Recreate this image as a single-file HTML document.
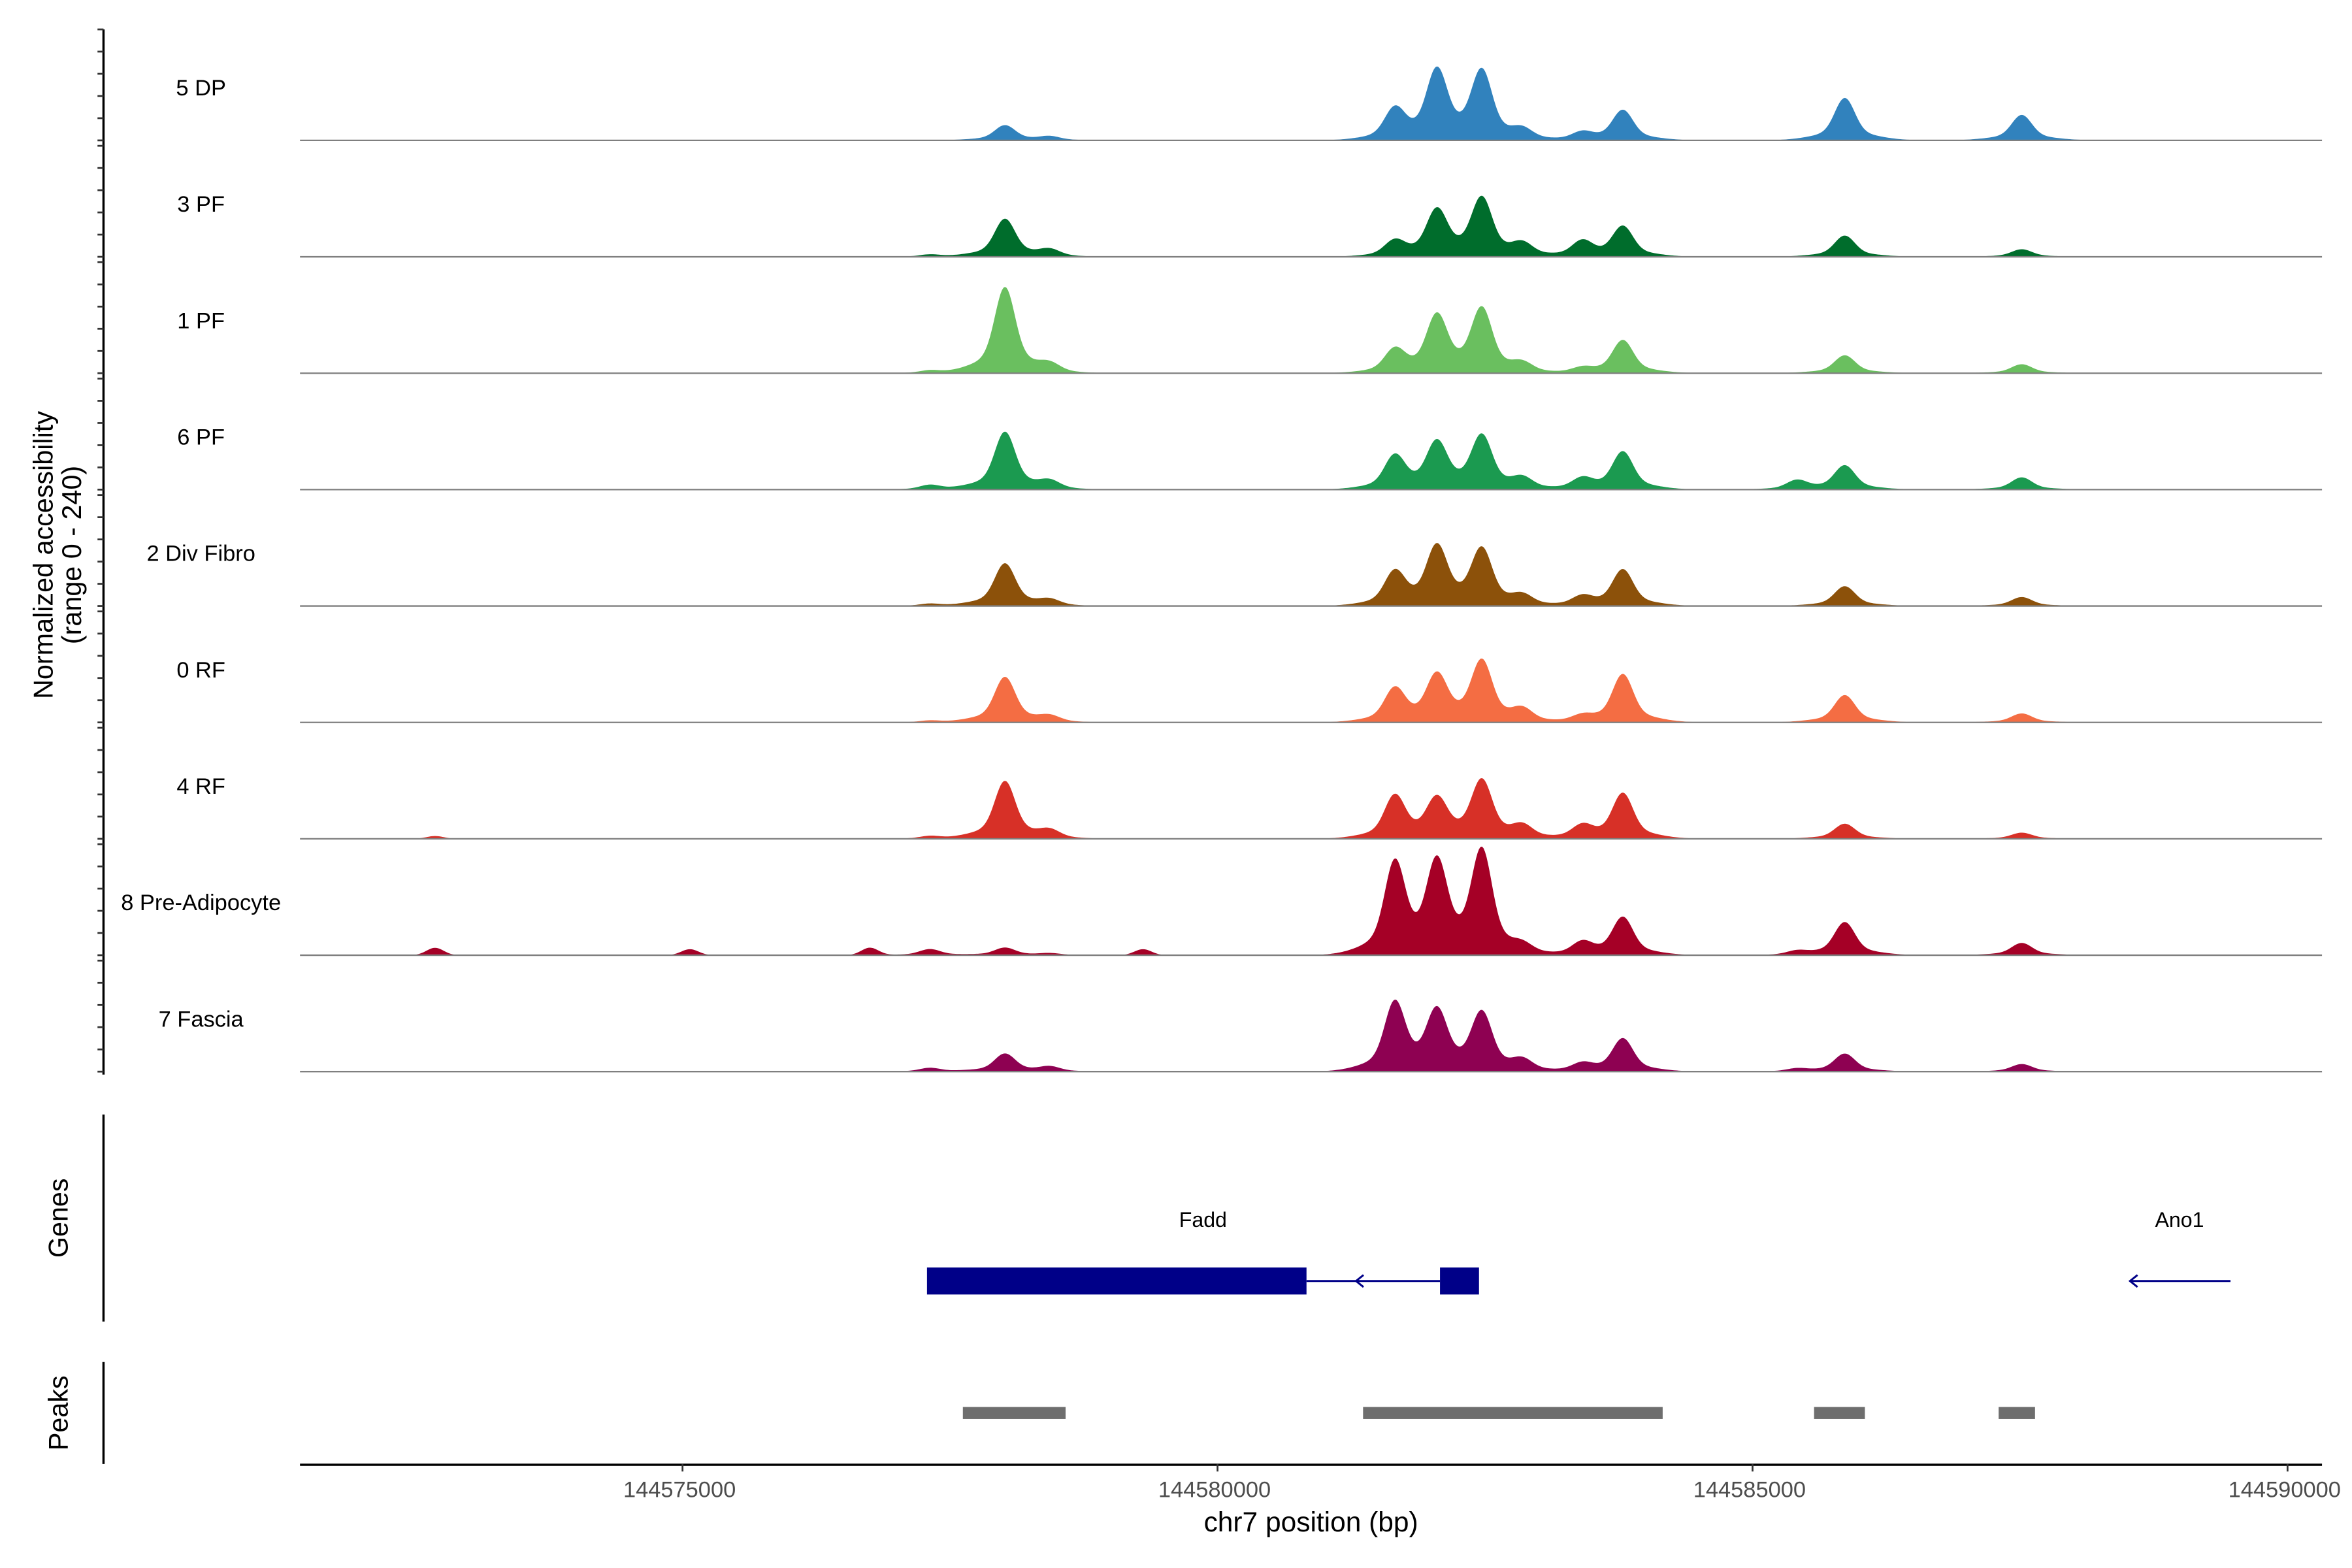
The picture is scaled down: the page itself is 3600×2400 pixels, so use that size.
<!DOCTYPE html>
<html><head><meta charset="utf-8"><style>
html,body{margin:0;padding:0;background:#fff}
svg{display:block}
text{font-family:"Liberation Sans",Arial,sans-serif}
</style></head><body>
<svg id="chart" width="3600" height="2400" viewBox="0 0 1568 1045.33" xmlns="http://www.w3.org/2000/svg">
<rect width="1568" height="1046" fill="#fff"/>
<g id="tracks"></g>
<g id="yaxis"></g>
<text transform="translate(35,370) rotate(-90)" text-anchor="middle" font-size="18">Normalized accessibility</text>
<text transform="translate(54,370) rotate(-90)" text-anchor="middle" font-size="18">(range 0 - 240)</text>
<line x1="69" y1="743" x2="69" y2="881" stroke="#000" stroke-width="1.5"/>
<text transform="translate(45,812) rotate(-90)" text-anchor="middle" font-size="18">Genes</text>
<line x1="69" y1="908" x2="69" y2="976" stroke="#000" stroke-width="1.5"/>
<text transform="translate(45,942) rotate(-90)" text-anchor="middle" font-size="18">Peaks</text>
<g id="genes"></g>
<g id="peaks"></g>
<g id="xaxis"></g>
<text x="874" y="1021" text-anchor="middle" font-size="18.5">chr7 position (bp)</text>
</svg>
<script>
const trackNames = ["5 DP","3 PF","1 PF","6 PF","2 Div Fibro","0 RF","4 RF","8 Pre-Adipocyte","7 Fascia"];
const trackColors = ["#3182bd","#006d2c","#6abf5f","#1b9a50","#8c510a","#f46d43","#d73027","#a50026","#8e0152"];
const peakPositions = [144577312,144578013,144578433,144581657,144582050,144582470,144582849,144583410,144583788,144585414,144585862,144587516];
// heights per track at each peak position (0-240 scale)
const trackHeights = [
 [0,32,8,64,144,144,20,16,64,0,90,54],
 [5,80,14,32,96,122,25,32,64,0,45,16],
 [6,182,16,48,118,134,18,10,70,0,38,19],
 [10,122,16,70,96,112,22,22,80,19,51,26],
 [5,90,12,70,122,118,20,19,77,0,42,19],
 [4,96,12,70,96,128,25,12,102,0,58,19],
 [6,122,16,90,80,122,25,26,96,0,32,13],
 [13,16,4,192,186,218,16,26,80,8,70,26],
 [8,38,10,144,122,122,22,16,70,6,38,16]
];
const extraPos = [144572687,144575069,144576751,144579303];
const extraHeights = [
 [0,0,0,0],[0,0,0,0],[0,0,0,0],[0,0,0,0],[0,0,0,0],[0,0,0,0],[6,0,0,0],[16,13,16,13],[0,0,0,0]
];
const xTicks = [144575000,144580000,144585000,144590000];
const peakStarts = [144577620,144581360,144585575,144587300];
const peakEnds = [144578580,144584160,144586050,144587640];

const X0=200,X1=1548,BP0=144571425,BP1=144590322;
function xs(bp){return X0+(bp-BP0)/(BP1-BP0)*(X1-X0);}
const BASE0=93.6,STEP=77.6,PH=74;
function ys(i,v){return BASE0+i*STEP - v/240*PH;}
const NS="http://www.w3.org/2000/svg";
function mk(tag,attrs,parent){const e=document.createElementNS(NS,tag);for(const k in attrs)e.setAttribute(k,attrs[k]);parent.appendChild(e);return e;}

const tracks=document.getElementById('tracks');
trackNames.forEach((name,i)=>{
  const g=mk('g',{},tracks);
  
  
  const t=mk('text',{x:134,y:ys(i,0)-30,'text-anchor':'middle','font-size':15},g);
  t.textContent=name;
  
  
  let d='M'+X0+','+ys(i,0);
  for(let px=X0;px<=1490;px+=1){
    const bp=BP0+(px-X0)/(X1-X0)*(BP1-BP0);
    let v=0;
    peakPositions.forEach((p,k)=>{const h=trackHeights[i][k];const z=(bp-p);
      v+=h*0.8*Math.exp(-z*z/(2*90*90))+h*0.22*Math.exp(-z*z/(2*260*260));});
    extraPos.forEach((p,k)=>{const h=extraHeights[i][k];const z=(bp-p);v+=h*Math.exp(-z*z/(2*80*80));});
    d+=' L'+px+','+ys(i,v).toFixed(2);
  }
  d+=' L1490,'+ys(i,0)+' Z';
  const a=mk('path',{d:d,fill:trackColors[i]},g);
  
  
  const b=mk('line',{x1:X0,x2:X1,y1:ys(i,0),y2:ys(i,0),stroke:'#7f7f7f','stroke-width':1},g);
  
  
});

const ya=document.getElementById('yaxis');
mk('line',{x1:69,x2:69,y1:ys(0,240),y2:ys(8,0)+2,stroke:'#000','stroke-width':1.5},ya);
for(let i=0;i<9;i++){for(let v=0;v<=240;v+=48){
  const tk=mk('line',{x1:65,x2:69,y1:ys(i,v),y2:ys(i,v),stroke:'#333','stroke-width':1.2},ya);
  
  
}}

const gn=document.getElementById('genes');
let r=mk('rect',{x:618,y:845,width:253,height:18,fill:'#000088'},gn);

r=mk('rect',{x:960,y:845,width:26,height:18,fill:'#000088'},gn);

mk('line',{x1:871,x2:960,y1:854,y2:854,stroke:'#000088','stroke-width':1.3},gn);
mk('path',{d:'M909,850 L904,854 L909,858',fill:'none',stroke:'#000088','stroke-width':1.3},gn);
let tx=mk('text',{x:802,y:818,'text-anchor':'middle','font-size':14},gn);tx.textContent='Fadd';

mk('line',{x1:1420,x2:1487,y1:854,y2:854,stroke:'#000088','stroke-width':1.3},gn);
mk('path',{d:'M1425,850 L1420,854 L1425,858',fill:'none',stroke:'#000088','stroke-width':1.3},gn);
tx=mk('text',{x:1453,y:818,'text-anchor':'middle','font-size':14},gn);tx.textContent='Ano1';


const pk=document.getElementById('peaks');
peakStarts.forEach((s,k)=>{
  const p=mk('rect',{x:xs(s),y:938,width:xs(peakEnds[k])-xs(s),height:8,fill:'#6e6e6e'},pk);
  
  
});

const xa=document.getElementById('xaxis');
mk('line',{x1:X0,x2:X1,y1:976.5,y2:976.5,stroke:'#000','stroke-width':1.5},xa);
xTicks.forEach(t=>{
  const l=mk('line',{x1:xs(t),x2:xs(t),y1:976,y2:981,stroke:'#333','stroke-width':1.2},xa);
  
  
  const tt=mk('text',{x:xs(t)-2,y:998,'text-anchor':'middle','font-size':15,fill:'#4d4d4d'},xa);
  tt.textContent=t;
  
  
});
</script>
</body></html>
